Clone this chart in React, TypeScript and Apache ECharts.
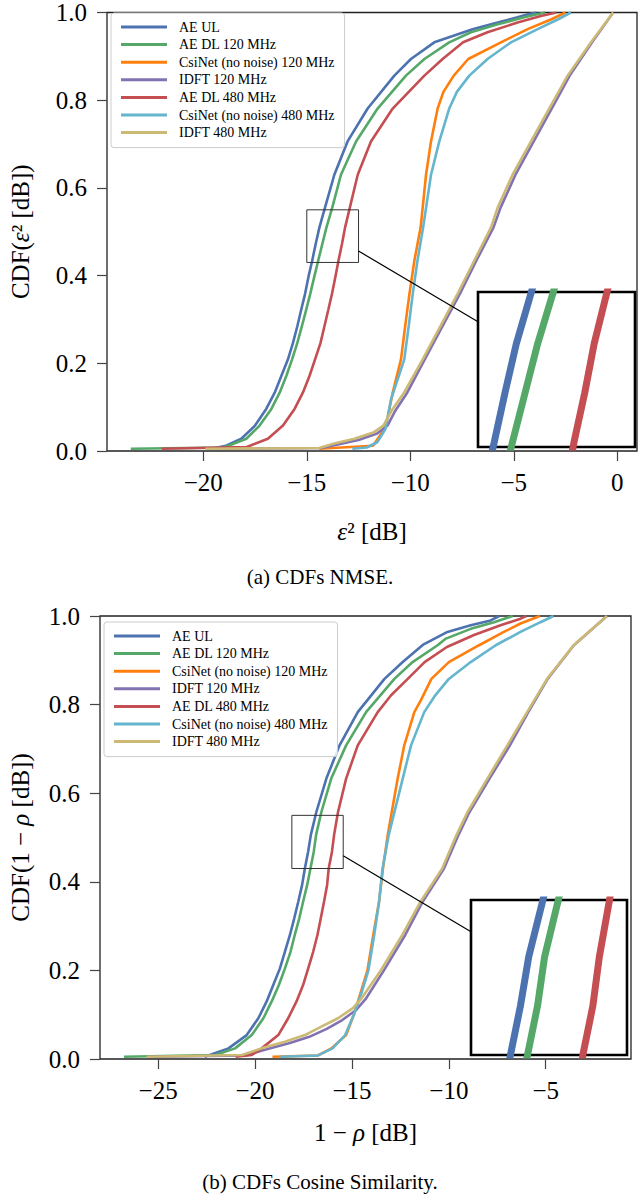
import React, { useEffect, useRef } from 'react';
import * as echarts from 'echarts';

const FONT = "'Liberation Serif', 'Times New Roman', serif";

const seriesNames = [
  'AE UL',
  'AE DL 120 MHz',
  'CsiNet (no noise) 120 MHz',
  'IDFT 120 MHz',
  'AE DL 480 MHz',
  'CsiNet (no noise) 480 MHz',
  'IDFT 480 MHz',
];
const seriesColors = ['#4C72B0', '#55A868', '#FF7F0E', '#8172B2', '#C44E52', '#64B5CD', '#CCB974'];

// ---- (a) CDFs NMSE : [epsilon^2 dB, CDF]
const nmseAeUl = [[-19.6, 0.005], [-18.9, 0.012], [-18.16, 0.028], [-17.5, 0.058], [-16.96, 0.096], [-16.55, 0.133], [-16.23, 0.171], [-15.91, 0.209], [-15.67, 0.246], [-15.46, 0.284], [-15.27, 0.322], [-15.08, 0.359], [-14.92, 0.397], [-14.74, 0.434], [-14.57, 0.472], [-14.39, 0.51], [-14.12, 0.555], [-13.67, 0.63], [-13.03, 0.706], [-12.06, 0.781], [-10.77, 0.856], [-9.97, 0.894], [-8.84, 0.932], [-6.99, 0.962], [-5.78, 0.977], [-4.82, 0.989], [-4.3, 0.996], [-3.9, 1.0]];
const nmseAeDl120 = [[-23.5, 0.005], [-19.0, 0.008], [-17.92, 0.028], [-17.28, 0.058], [-16.71, 0.096], [-16.31, 0.133], [-15.99, 0.171], [-15.71, 0.209], [-15.46, 0.246], [-15.24, 0.284], [-15.03, 0.322], [-14.83, 0.359], [-14.64, 0.397], [-14.45, 0.434], [-14.25, 0.472], [-14.05, 0.51], [-13.77, 0.555], [-13.35, 0.63], [-12.62, 0.706], [-11.58, 0.781], [-10.21, 0.856], [-9.32, 0.894], [-8.12, 0.932], [-7.07, 0.955], [-5.78, 0.973], [-4.5, 0.989], [-3.5, 1.0]];
const nmseCsi120 = [[-14.4, 0.005], [-11.8, 0.012], [-11.4, 0.04], [-11.1, 0.075], [-10.85, 0.133], [-10.45, 0.209], [-10.25, 0.284], [-10.04, 0.359], [-9.8, 0.435], [-9.5, 0.51], [-9.24, 0.63], [-9.0, 0.706], [-8.68, 0.781], [-8.4, 0.819], [-7.9, 0.856], [-7.2, 0.894], [-5.62, 0.932], [-4.33, 0.962], [-3.21, 0.984], [-2.5, 1.0]];
const nmseIdft120 = [[-19.8, 0.005], [-14.3, 0.007], [-13.5, 0.015], [-12.5, 0.025], [-11.6, 0.04], [-11.1, 0.058], [-10.75, 0.09], [-10.15, 0.133], [-9.3, 0.209], [-8.45, 0.284], [-7.6, 0.359], [-6.8, 0.435], [-5.98, 0.51], [-5.64, 0.555], [-4.92, 0.63], [-4.04, 0.706], [-3.17, 0.781], [-2.3, 0.856], [-1.22, 0.932], [-0.2, 1.0]];
const nmseAeDl480 = [[-22.0, 0.005], [-17.9, 0.009], [-16.88, 0.028], [-16.15, 0.058], [-15.59, 0.096], [-15.19, 0.133], [-14.87, 0.171], [-14.6, 0.209], [-14.34, 0.246], [-14.15, 0.284], [-13.96, 0.322], [-13.78, 0.359], [-13.62, 0.397], [-13.47, 0.434], [-13.3, 0.472], [-13.15, 0.51], [-12.92, 0.555], [-12.54, 0.63], [-11.9, 0.706], [-10.85, 0.781], [-9.32, 0.856], [-8.44, 0.894], [-7.45, 0.932], [-6.27, 0.955], [-4.82, 0.977], [-3.69, 0.992], [-2.95, 1.0]];
const nmseCsi480 = [[-12.8, 0.005], [-12.1, 0.008], [-11.6, 0.02], [-11.2, 0.05], [-10.93, 0.118], [-10.29, 0.209], [-10.08, 0.284], [-9.88, 0.359], [-9.65, 0.435], [-9.38, 0.51], [-9.0, 0.63], [-8.6, 0.706], [-8.12, 0.781], [-7.75, 0.819], [-7.15, 0.856], [-6.27, 0.894], [-5.14, 0.932], [-3.85, 0.962], [-2.88, 0.984], [-2.24, 1.0]];
const nmseIdft480 = [[-19.9, 0.005], [-14.4, 0.007], [-13.67, 0.017], [-12.7, 0.028], [-11.75, 0.043], [-11.3, 0.058], [-10.85, 0.096], [-10.3, 0.133], [-9.4, 0.209], [-8.55, 0.284], [-7.71, 0.359], [-6.9, 0.435], [-6.1, 0.51], [-5.78, 0.555], [-5.06, 0.63], [-4.17, 0.706], [-3.29, 0.781], [-2.4, 0.856], [-1.27, 0.932], [-0.2, 1.0]];

// ---- (b) CDFs Cosine Similarity : [1 - rho dB, CDF]
const cosAeUl = [[-22.6, 0.005], [-21.37, 0.024], [-20.43, 0.054], [-19.83, 0.092], [-19.4, 0.13], [-19.06, 0.167], [-18.72, 0.204], [-18.46, 0.242], [-18.2, 0.28], [-17.98, 0.317], [-17.77, 0.355], [-17.57, 0.393], [-17.43, 0.43], [-17.26, 0.468], [-17.12, 0.506], [-16.84, 0.557], [-16.32, 0.633], [-15.64, 0.708], [-14.7, 0.783], [-13.32, 0.858], [-12.38, 0.896], [-11.3, 0.936], [-10.07, 0.964], [-8.87, 0.979], [-7.84, 0.99], [-7.4, 1.0]];
const cosAeDl120 = [[-26.76, 0.005], [-22.05, 0.009], [-21.03, 0.024], [-20.17, 0.054], [-19.57, 0.092], [-19.14, 0.13], [-18.77, 0.167], [-18.46, 0.204], [-18.17, 0.242], [-17.95, 0.28], [-17.72, 0.317], [-17.52, 0.355], [-17.31, 0.393], [-17.14, 0.43], [-16.97, 0.468], [-16.85, 0.506], [-16.58, 0.557], [-16.07, 0.633], [-15.3, 0.708], [-14.27, 0.783], [-12.81, 0.858], [-11.87, 0.896], [-10.58, 0.934], [-10.15, 0.949], [-8.87, 0.971], [-7.67, 0.986], [-6.7, 1.0]];
const cosCsi120 = [[-19.1, 0.005], [-16.75, 0.008], [-16.06, 0.024], [-15.3, 0.054], [-14.9, 0.1], [-14.55, 0.15], [-14.2, 0.2], [-13.9, 0.28], [-13.6, 0.355], [-13.4, 0.43], [-13.15, 0.506], [-12.64, 0.633], [-12.3, 0.708], [-11.78, 0.783], [-11.44, 0.81], [-10.9, 0.858], [-10.0, 0.896], [-8.44, 0.934], [-7.16, 0.964], [-6.3, 0.983], [-5.3, 1.0]];
const cosIdft120 = [[-25.5, 0.005], [-20.5, 0.008], [-19.4, 0.022], [-18.2, 0.036], [-17.2, 0.05], [-16.3, 0.068], [-15.5, 0.088], [-14.8, 0.11], [-14.3, 0.135], [-13.35, 0.2], [-12.25, 0.28], [-11.35, 0.355], [-10.25, 0.43], [-9.5, 0.506], [-8.94, 0.557], [-7.9, 0.633], [-6.85, 0.708], [-5.9, 0.783], [-4.9, 0.858], [-3.55, 0.934], [-1.84, 1.0]];
const cosAeDl480 = [[-21.0, 0.005], [-20.17, 0.009], [-19.66, 0.024], [-18.8, 0.054], [-18.29, 0.092], [-17.86, 0.13], [-17.52, 0.167], [-17.26, 0.204], [-17.0, 0.242], [-16.78, 0.28], [-16.61, 0.317], [-16.44, 0.355], [-16.28, 0.393], [-16.2, 0.43], [-16.03, 0.468], [-15.92, 0.506], [-15.72, 0.557], [-15.3, 0.633], [-14.7, 0.708], [-13.67, 0.783], [-12.98, 0.821], [-12.12, 0.858], [-11.25, 0.896], [-10.1, 0.93], [-8.7, 0.957], [-7.33, 0.979], [-6.3, 0.994], [-6.0, 1.0]];
const cosCsi480 = [[-18.7, 0.005], [-16.75, 0.008], [-16.0, 0.024], [-15.35, 0.054], [-14.9, 0.1], [-14.5, 0.15], [-14.15, 0.2], [-13.85, 0.28], [-13.6, 0.355], [-13.42, 0.43], [-13.1, 0.506], [-12.38, 0.633], [-11.95, 0.708], [-11.27, 0.783], [-10.7, 0.821], [-10.0, 0.858], [-8.87, 0.896], [-7.58, 0.934], [-6.3, 0.964], [-5.27, 0.986], [-4.6, 1.0]];
const cosIdft480 = [[-25.6, 0.005], [-20.68, 0.009], [-19.66, 0.024], [-18.46, 0.039], [-17.43, 0.054], [-16.58, 0.073], [-15.72, 0.092], [-14.95, 0.115], [-14.5, 0.137], [-13.51, 0.2], [-12.4, 0.28], [-11.46, 0.355], [-10.34, 0.43], [-9.6, 0.506], [-9.04, 0.557], [-8.01, 0.633], [-6.98, 0.708], [-5.96, 0.783], [-4.93, 0.858], [-3.56, 0.934], [-1.84, 1.0]];

const nmseData = [nmseAeUl, nmseAeDl120, nmseCsi120, nmseIdft120, nmseAeDl480, nmseCsi480, nmseIdft480];
const cosData = [cosAeUl, cosAeDl120, cosCsi120, cosIdft120, cosAeDl480, cosCsi480, cosIdft480];

// axes
const nmseXRange = [-24.65, 0.95];
const cosXRange = [-28.0, -0.6];
const nmseXTicks = [-20, -15, -10, -5, 0];
const cosXTicks = [-25, -20, -15, -10, -5];

// zoomed (inset) regions and the series shown in them
const insetSeries = [0, 1, 4];
const nmseZoomX = [-15, -12.5];
const nmseZoomY = [0.43, 0.55];
const cosZoomX = [-18.1, -15.45];
const cosZoomY = [0.43, 0.55];
// connector line anchors: [y on main axes at zoom-box right edge, y on inset axes at inset left edge]
const nmseConnector = [0.456, 0.527];
const cosConnector = [0.459, 0.5255];

const captions = ['(a) CDFs NMSE.', '(b) CDFs Cosine Similarity.'];

const fmtX = (v: number) => (v < 0 ? '\u2212' + Math.abs(v) : String(v));

function mainAxes(range: number[], ticks: number[], gridIndex: number, xName: string, yName: string, xGap: number, yGap: number) {
  const rich = { it: { fontStyle: 'italic', fontFamily: FONT, fontSize: 25 } };
  const x = {
    type: 'value', gridIndex, min: range[0], max: range[1],
    name: xName, nameLocation: 'middle', nameGap: xGap,
    nameTextStyle: { fontFamily: FONT, fontSize: 25, color: '#000', rich },
    axisLine: { show: false, onZero: false },
    axisTick: { show: true, length: 10, customValues: ticks, lineStyle: { color: '#444', width: 1.2 } },
    axisLabel: { customValues: ticks, formatter: fmtX, fontFamily: FONT, fontSize: 25, color: '#000', margin: 19 },
    splitLine: { show: false },
  };
  const y = {
    type: 'value', gridIndex, min: 0, max: 1, interval: 0.2,
    name: yName, nameLocation: 'middle', nameRotate: 90, nameGap: yGap,
    nameTextStyle: { fontFamily: FONT, fontSize: 25, color: '#000', rich },
    axisLine: { show: false, onZero: false },
    axisTick: { show: true, length: 10, lineStyle: { color: '#444', width: 1.2 } },
    axisLabel: { formatter: (v: number) => v.toFixed(1), fontFamily: FONT, fontSize: 25, color: '#000', margin: 20 },
    splitLine: { show: false },
  };
  return { x, y };
}

function insetAxes(zx: number[], zy: number[], gridIndex: number) {
  const hidden = { axisLine: { show: false, onZero: false }, axisTick: { show: false }, axisLabel: { show: false }, splitLine: { show: false } };
  return {
    x: { type: 'value', gridIndex, min: zx[0], max: zx[1], ...hidden },
    y: { type: 'value', gridIndex, min: zy[0], max: zy[1], ...hidden },
  };
}

function lineSeries(idx: number, data: number[][], axisIndex: number, width: number, z: number) {
  return {
    type: 'line', name: seriesNames[idx], data, xAxisIndex: axisIndex, yAxisIndex: axisIndex,
    symbol: 'none', showSymbol: false, smooth: false, clip: true, silent: true, z,
    lineStyle: { color: seriesColors[idx], width },
    itemStyle: { color: seriesColors[idx] },
    emphasis: { disabled: true },
  };
}

function legendAt(left: number, top: number) {
  return {
    data: seriesNames, orient: 'vertical', left, top,
    icon: 'rect', itemWidth: 46, itemHeight: 3, itemGap: 3.6,
    padding: [7, 10, 8, 10], backgroundColor: 'rgba(255,255,255,0.85)',
    borderColor: '#cccccc', borderWidth: 1, borderRadius: 3, selectedMode: false,
    textStyle: { fontFamily: FONT, fontSize: 14, color: '#000', lineHeight: 14, padding: [0, 0, 0, 7] },
    z: 6,
  };
}

export default function App() {
  const ref = useRef<HTMLDivElement>(null);
  useEffect(() => {
    const el = ref.current;
    if (!el) return;
    const chart = echarts.init(el, null, { renderer: 'svg' });

    const a0 = mainAxes(nmseXRange, nmseXTicks, 0, '{it|ε}² [dB]', 'CDF({it|ε}² [dB])', 68, 74);
    const a1 = insetAxes(nmseZoomX, nmseZoomY, 1);
    const a2 = mainAxes(cosXRange, cosXTicks, 2, '1 − {it|ρ} [dB]', 'CDF(1 − {it|ρ} [dB])', 61, 67);
    const a3 = insetAxes(cosZoomX, cosZoomY, 3);

    const series: any[] = [];
    nmseData.forEach((d, i) => series.push(lineSeries(i, d, 0, 2.6, 2)));
    insetSeries.forEach((i) => series.push(lineSeries(i, nmseData[i], 1, 7, 11)));
    cosData.forEach((d, i) => series.push(lineSeries(i, d, 2, 2.6, 2)));
    insetSeries.forEach((i) => series.push(lineSeries(i, cosData[i], 3, 7, 11)));

    chart.setOption({
      animation: false,
      backgroundColor: '#ffffff',
      textStyle: { fontFamily: FONT },
      title: [
        { text: captions[0], left: 'center', top: 566, padding: 0, textStyle: { fontFamily: FONT, fontSize: 21, fontWeight: 'normal', color: '#000' } },
        { text: captions[1], left: 'center', top: 1171, padding: 0, textStyle: { fontFamily: FONT, fontSize: 21, fontWeight: 'normal', color: '#000' } },
      ],
      legend: [legendAt(111, 13), legendAt(104, 622)],
      grid: [
        { left: 105, top: 8, width: 532, height: 443, show: true, borderColor: '#222', borderWidth: 1.3, backgroundColor: 'transparent', containLabel: false },
        { left: 478, top: 292, width: 157, height: 155, show: true, borderColor: '#000', borderWidth: 2.6, backgroundColor: '#ffffff', z: 10, containLabel: false },
        { left: 98, top: 616, width: 533, height: 443, show: true, borderColor: '#222', borderWidth: 1.3, backgroundColor: 'transparent', containLabel: false },
        { left: 471, top: 900, width: 156, height: 155, show: true, borderColor: '#000', borderWidth: 2.6, backgroundColor: '#ffffff', z: 10, containLabel: false },
      ],
      xAxis: [a0.x, a1.x, a2.x, a3.x],
      yAxis: [a0.y, a1.y, a2.y, a3.y],
      series,
    });

    const px = (ai: number, p: number[]) => chart.convertToPixel({ xAxisIndex: ai, yAxisIndex: ai }, p) as number[];
    const graphics: any[] = [];
    const addZoom = (mainAi: number, insetAi: number, zx: number[], zy: number[], conn: number[]) => {
      const tl = px(mainAi, [zx[0], zy[1]]);
      const br = px(mainAi, [zx[1], zy[0]]);
      graphics.push({
        type: 'rect', z: 5, silent: true,
        shape: { x: tl[0], y: tl[1], width: br[0] - tl[0], height: br[1] - tl[1] },
        style: { fill: 'none', stroke: '#333', lineWidth: 1 },
      });
      const s = px(mainAi, [zx[1], conn[0]]);
      const e = px(insetAi, [zx[0], conn[1]]);
      graphics.push({
        type: 'line', z: 12, silent: true,
        shape: { x1: s[0], y1: s[1], x2: e[0], y2: e[1] },
        style: { stroke: '#000', lineWidth: 1.2 },
      });
    };
    addZoom(0, 1, nmseZoomX, nmseZoomY, nmseConnector);
    addZoom(2, 3, cosZoomX, cosZoomY, cosConnector);
    chart.setOption({ graphic: graphics });

    return () => chart.dispose();
  }, []);

  return <div ref={ref} style={{ position: 'absolute', left: 0, top: 0, width: 640, height: 1194, background: '#fff' }} />;
}
